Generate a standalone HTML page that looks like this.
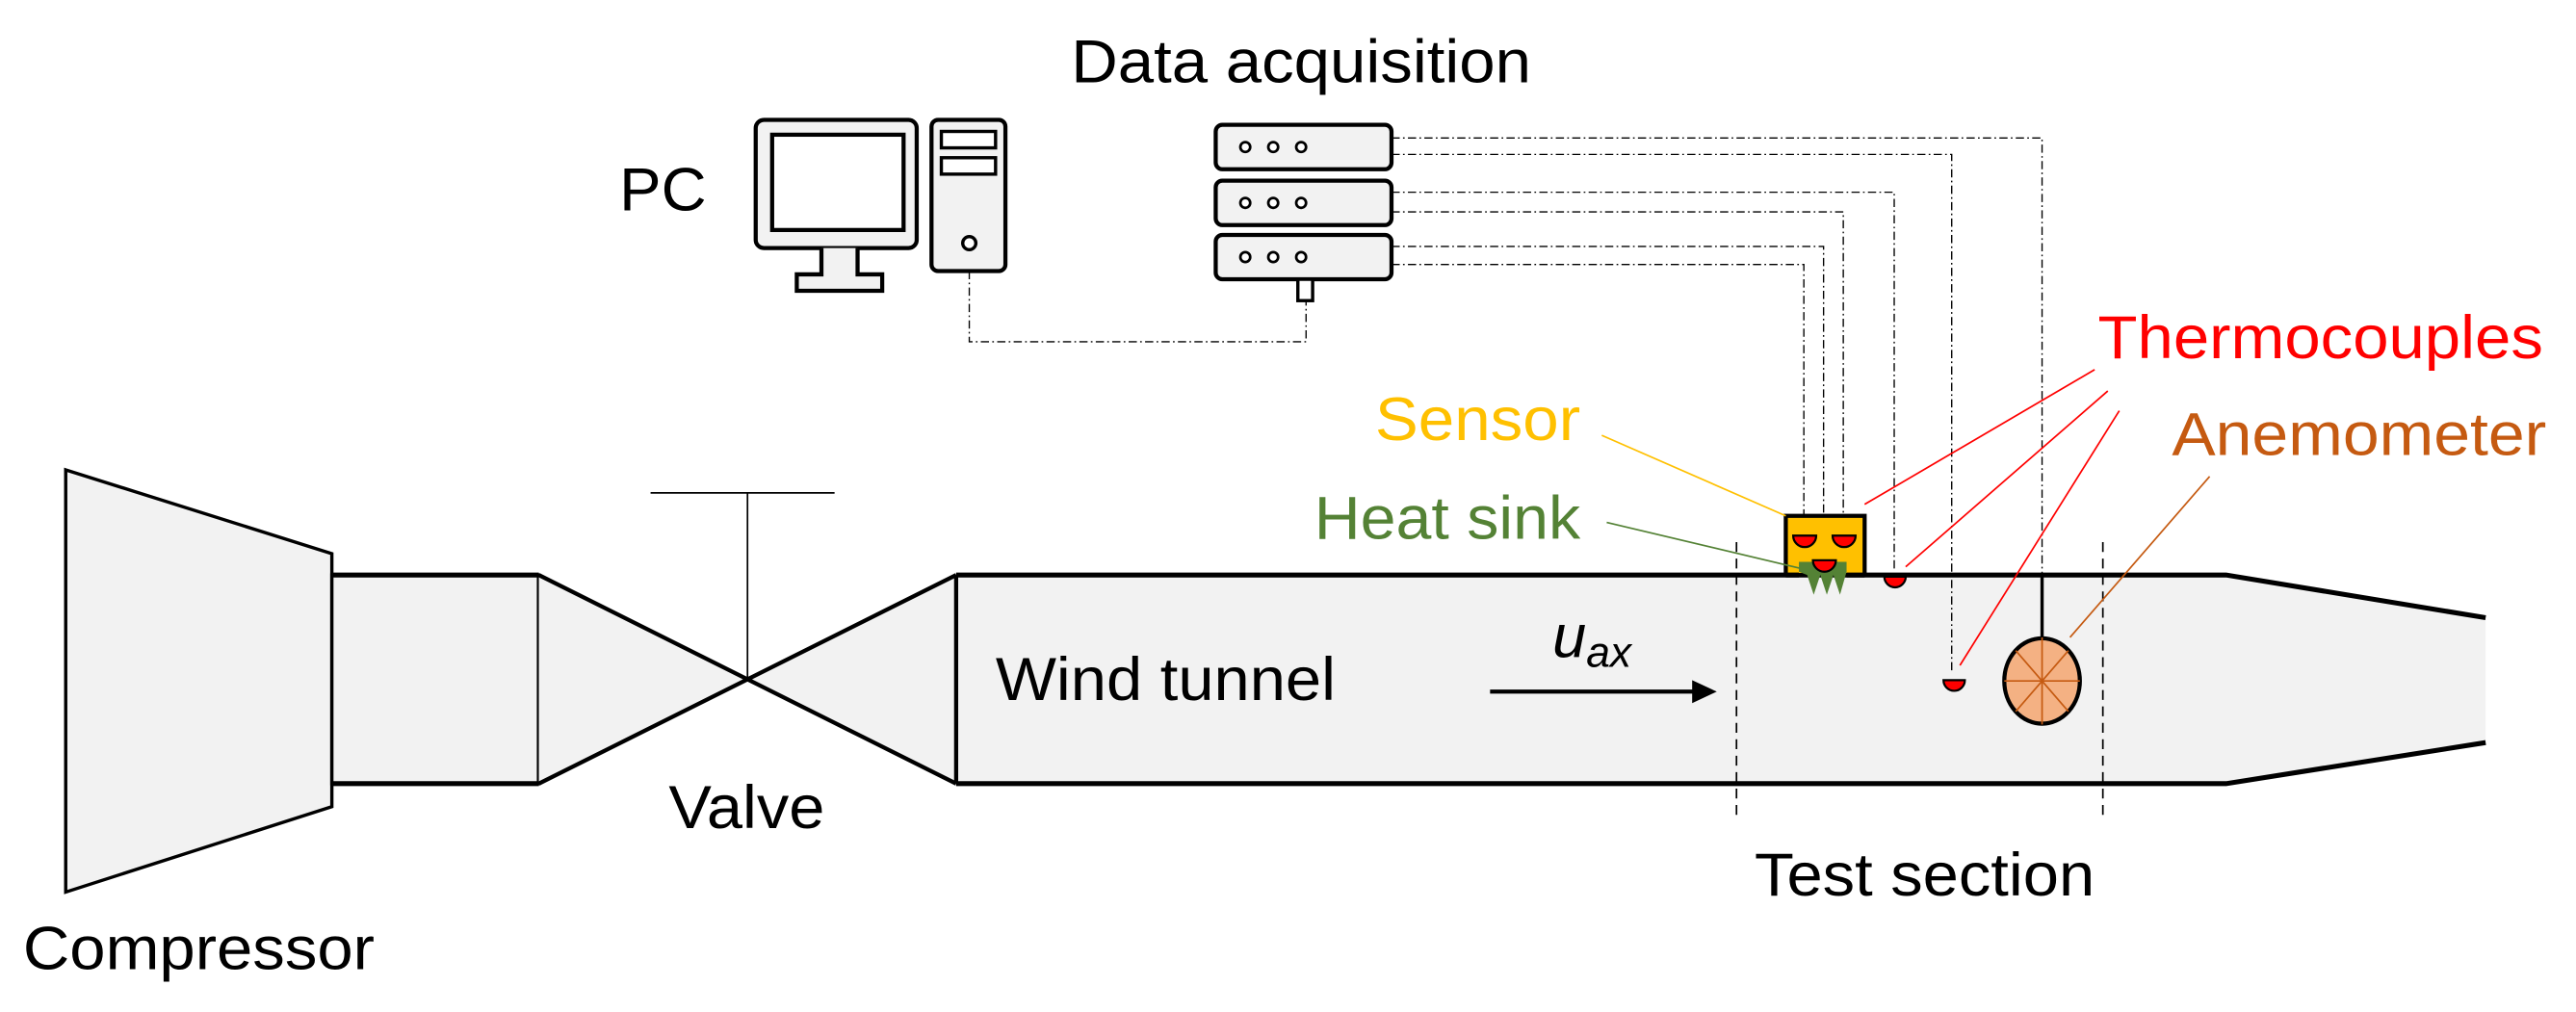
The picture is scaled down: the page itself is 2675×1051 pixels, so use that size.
<!DOCTYPE html>
<html><head><meta charset="utf-8"><style>
html,body{margin:0;padding:0;background:#fff;}
svg{display:block;}
text{font-family:"Liberation Sans",Arial,sans-serif;font-size:37px;}
</style></head><body>
<svg width="2675" height="1051" viewBox="0 0 1568 616" preserveAspectRatio="none" xmlns="http://www.w3.org/2000/svg">
<rect width="1568" height="616" fill="#fff"/>
<polygon points="40,286 202,337 202,491 40,543" fill="#f2f2f2" stroke="#000" stroke-width="2"/>
<rect x="202" y="350" width="126" height="127" fill="#f2f2f2" stroke="#000" stroke-width="2"/>
<line x1="202" y1="350" x2="328" y2="350" stroke="#000" stroke-width="3"/>
<line x1="202" y1="477" x2="328" y2="477" stroke="#000" stroke-width="3"/>
<line x1="328" y1="350" x2="328" y2="477" stroke="#000" stroke-width="2.5"/>
<polygon points="328,350 455,413 328,477" fill="#f2f2f2"/>
<polygon points="582,350 455,413 582,477" fill="#f2f2f2"/>
<polyline points="328,350 582,477" fill="none" stroke="#000" stroke-width="2.5"/>
<polyline points="328,477 582,350" fill="none" stroke="#000" stroke-width="2.5"/>
<line x1="455" y1="300" x2="455" y2="413" stroke="#000" stroke-width="1"/>
<line x1="396" y1="300" x2="508" y2="300" stroke="#000" stroke-width="1"/>
<polygon points="582,350 1355,350 1513,376 1513,452 1355,477 582,477" fill="#f2f2f2"/>
<line x1="582" y1="350" x2="582" y2="477" stroke="#000" stroke-width="2.5"/>
<polyline points="582,350 1355,350 1513,376" fill="none" stroke="#000" stroke-width="3"/>
<polyline points="582,477 1355,477 1513,452" fill="none" stroke="#000" stroke-width="3"/>
<line x1="1057" y1="330" x2="1057" y2="500" stroke="#000" stroke-width="1" stroke-dasharray="6,4"/>
<line x1="1280" y1="330" x2="1280" y2="500" stroke="#000" stroke-width="1" stroke-dasharray="6,4"/>
<line x1="907" y1="421" x2="1032" y2="421" stroke="#000" stroke-width="2.5"/>
<polygon points="1030,414 1045,421 1030,428" fill="#000"/>
<text x="945" y="400" font-family="Liberation Serif,serif" font-style="italic" font-size="32">u<tspan font-size="26" dy="6">ax</tspan></text>
<rect x="460" y="73" width="98" height="78" rx="5" fill="#f2f2f2" stroke="#000" stroke-width="2.5"/>
<rect x="470" y="82" width="80" height="58" fill="#fff" stroke="#000" stroke-width="2.5"/>
<path d="M500,151 v16 h-15 v10 h52 v-10 h-15 v-16" fill="#f2f2f2" stroke="#000" stroke-width="2.5"/>
<rect x="567" y="73" width="45" height="92" rx="4" fill="#f2f2f2" stroke="#000" stroke-width="2.5"/>
<rect x="573" y="80" width="33" height="10" fill="#fff" stroke="#000" stroke-width="2"/>
<rect x="573" y="96" width="33" height="10" fill="#fff" stroke="#000" stroke-width="2"/>
<circle cx="590" cy="148" r="4" fill="#fff" stroke="#000" stroke-width="2"/>
<g fill="#f2f2f2" stroke="#000" stroke-width="2.5">
<rect x="740" y="76" width="107" height="27" rx="4"/>
<rect x="740" y="110" width="107" height="27" rx="4"/>
<rect x="740" y="143" width="107" height="27" rx="4"/>
<rect x="790" y="170" width="9" height="13" fill="#fff" stroke-width="2"/>
</g>
<g fill="#fff" stroke="#000" stroke-width="1.6">
<circle cx="758" cy="89.5" r="3"/><circle cx="775" cy="89.5" r="3"/><circle cx="792" cy="89.5" r="3"/>
<circle cx="758" cy="123.5" r="3"/><circle cx="775" cy="123.5" r="3"/><circle cx="792" cy="123.5" r="3"/>
<circle cx="758" cy="156.5" r="3"/><circle cx="775" cy="156.5" r="3"/><circle cx="792" cy="156.5" r="3"/>
</g>
<g fill="none" stroke="#000" stroke-width="0.8" stroke-dasharray="5,2,1,2">
<polyline points="590,165 590,208 795,208 795,183"/>
<polyline points="847,84 1243,84 1243,351"/>
<polyline points="847,94 1188,94 1188,410"/>
<polyline points="847,117 1153,117 1153,348"/>
<polyline points="847,129 1122,129 1122,322"/>
<polyline points="847,150 1110,150 1110,338"/>
<polyline points="847,161 1098,161 1098,322"/>
</g>
<rect x="1087" y="314" width="48" height="36" fill="#ffc000" stroke="#000" stroke-width="2.5"/>
<polygon points="1095,342 1124,342 1124,348 1120,362 1116,350 1112,362 1108,350 1104,362 1100,350 1095,348" fill="#548235"/>
<g fill="#ff0000" stroke="#000" stroke-width="1.3">
<path d="M1091.5,326 h14 a7,7 0 0 1 -14,0 z"/>
<path d="M1115.5,326 h14 a7,7 0 0 1 -14,0 z"/>
<path d="M1103.5,341 h14 a7,7 0 0 1 -14,0 z"/>
<path d="M1147,351 h13 a6.5,6.5 0 0 1 -13,0 z"/>
<path d="M1183,414 h13 a6.5,6.5 0 0 1 -13,0 z"/>
</g>
<line x1="1087" y1="350" x2="1095" y2="350" stroke="#000" stroke-width="3"/>
<line x1="1124" y1="350" x2="1135" y2="350" stroke="#000" stroke-width="3"/>
<line x1="1243" y1="350" x2="1243" y2="388" stroke="#000" stroke-width="2"/>
<ellipse cx="1243" cy="414.5" rx="23" ry="26" fill="#f4b183" stroke="#000" stroke-width="2.5"/>
<g stroke="#c55a11" stroke-width="1">
<line x1="1243" y1="388" x2="1243" y2="441"/>
<line x1="1220" y1="414.5" x2="1266" y2="414.5"/>
<line x1="1227" y1="396" x2="1259" y2="433"/>
<line x1="1259" y1="396" x2="1227" y2="433"/>
</g>
<line x1="975" y1="265" x2="1087" y2="314" stroke="#ffc000" stroke-width="1"/>
<line x1="978" y1="318" x2="1096" y2="346" stroke="#548235" stroke-width="1"/>
<g stroke="#ff0000" stroke-width="1">
<line x1="1275" y1="225" x2="1135" y2="307"/>
<line x1="1283" y1="238" x2="1160" y2="345"/>
<line x1="1290" y1="250" x2="1193" y2="405"/>
</g>
<line x1="1345" y1="290" x2="1260" y2="388" stroke="#c55a11" stroke-width="1"/>
<g lengthAdjust="spacingAndGlyphs">
<text x="652" y="50" textLength="280" lengthAdjust="spacingAndGlyphs">Data acquisition</text>
<text x="377" y="128" textLength="53" lengthAdjust="spacingAndGlyphs">PC</text>
<text x="606" y="426" textLength="207" lengthAdjust="spacingAndGlyphs">Wind tunnel</text>
<text x="407" y="504" textLength="95" lengthAdjust="spacingAndGlyphs">Valve</text>
<text x="14" y="590" textLength="214" lengthAdjust="spacingAndGlyphs">Compressor</text>
<text x="1068" y="545" textLength="207" lengthAdjust="spacingAndGlyphs">Test section</text>
<text x="1277" y="218" fill="#ff0000" textLength="271" lengthAdjust="spacingAndGlyphs">Thermocouples</text>
<text x="837" y="268" fill="#ffc000" textLength="125" lengthAdjust="spacingAndGlyphs">Sensor</text>
<text x="800" y="328" fill="#548235" textLength="162" lengthAdjust="spacingAndGlyphs">Heat sink</text>
<text x="1322" y="277" fill="#c55a11" textLength="228" lengthAdjust="spacingAndGlyphs">Anemometer</text>
</g>
</svg>
</body></html>
